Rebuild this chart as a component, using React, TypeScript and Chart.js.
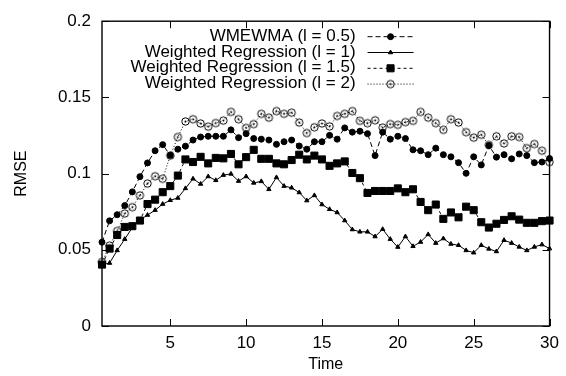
import React, { useEffect, useRef } from "react";
import { Chart, registerables } from "chart.js";
import { drawPoint } from "chart.js/helpers";

Chart.register(...registerables);

const times = [
  0.5, 1, 1.5, 2, 2.5, 3, 3.5, 4, 4.5, 5,
  5.5, 6, 6.5, 7, 7.5, 8, 8.5, 9, 9.5, 10,
  10.5, 11, 11.5, 12, 12.5, 13, 13.5, 14, 14.5, 15,
  15.5, 16, 16.5, 17, 17.5, 18, 18.5, 19, 19.5, 20,
  20.5, 21, 21.5, 22, 22.5, 23, 23.5, 24, 24.5, 25,
  25.5, 26, 26.5, 27, 27.5, 28, 28.5, 29, 29.5, 30,
];

const seriesLabels = [
  "WMEWMA (l = 0.5)",
  "Weighted Regression (l = 1)",
  "Weighted Regression (l = 1.5)",
  "Weighted Regression (l = 2)",
];

const wmewma05 = [
  0.055, 0.069, 0.073, 0.079, 0.088, 0.098, 0.107, 0.115, 0.119, 0.112,
  0.116, 0.118, 0.122, 0.124, 0.1245, 0.1245, 0.1245, 0.1287, 0.1236, 0.1262,
  0.123, 0.1226, 0.122, 0.1192, 0.1209, 0.122, 0.1181, 0.116, 0.1209, 0.1209,
  0.1251, 0.1226, 0.13, 0.1272, 0.1278, 0.1262, 0.1118, 0.1272, 0.1226, 0.1245,
  0.123, 0.1156, 0.115, 0.1124, 0.1167, 0.1124, 0.111, 0.1072, 0.1002, 0.111,
  0.1057, 0.1184, 0.1108, 0.1124, 0.1097, 0.1129, 0.1118, 0.1072, 0.1076, 0.1099,
];

const wreg1 = [
  0.0403, 0.0413, 0.0496, 0.057, 0.0646, 0.0696, 0.0728, 0.076, 0.08, 0.0825,
  0.084, 0.0903, 0.0966, 0.0932, 0.0981, 0.0956, 0.099, 0.0998, 0.0951, 0.0981,
  0.0939, 0.0949, 0.0897, 0.0975, 0.0918, 0.0907, 0.0876, 0.0823, 0.0857, 0.0797,
  0.0766, 0.0745, 0.0692, 0.0633, 0.0618, 0.0618, 0.0587, 0.0635, 0.057, 0.0518,
  0.0587, 0.0523, 0.0551, 0.0601, 0.0544, 0.0574, 0.0538, 0.053, 0.0496, 0.0481,
  0.053, 0.0506, 0.0489, 0.0563, 0.0544, 0.0519, 0.0496, 0.0519, 0.0534, 0.0508,
];

const wreg15 = [
  0.0403, 0.0508, 0.0597, 0.065, 0.0655, 0.0692, 0.08, 0.0829, 0.0878, 0.0918,
  0.0987, 0.1093, 0.1076, 0.111, 0.1067, 0.1103, 0.11, 0.1129, 0.1061, 0.1108,
  0.1156, 0.1097, 0.1097, 0.1067, 0.1061, 0.1089, 0.1124, 0.1093, 0.1118, 0.1093,
  0.1051, 0.1067, 0.108, 0.1004, 0.097, 0.0873, 0.0886, 0.0886, 0.0886, 0.0903,
  0.0878, 0.0897, 0.0814, 0.076, 0.0797, 0.0703, 0.0745, 0.0713, 0.0783, 0.076,
  0.0681, 0.0646, 0.0671, 0.0696, 0.072, 0.0698, 0.0677, 0.0677, 0.0688, 0.0692,
];

const wreg2 = [
  0.042, 0.0527, 0.0624, 0.0738, 0.078, 0.0857, 0.0935, 0.0983, 0.0966, 0.1118,
  0.124, 0.1342, 0.1357, 0.1329, 0.1308, 0.1332, 0.1348, 0.1405, 0.1357, 0.13,
  0.1325, 0.1392, 0.1367, 0.141, 0.1392, 0.14, 0.1335, 0.1266, 0.1304, 0.1329,
  0.131, 0.1378, 0.1392, 0.141, 0.1346, 0.1331, 0.135, 0.1302, 0.1325, 0.132,
  0.1338, 0.1346, 0.1405, 0.1367, 0.1331, 0.1287, 0.1357, 0.1335, 0.1272, 0.1236,
  0.1255, 0.1188, 0.1245, 0.1198, 0.1245, 0.124, 0.1167, 0.1194, 0.115, 0.1076,
];

const xTicks = [5, 10, 15, 20, 25, 30];
const yTicks = [0, 0.05, 0.1, 0.15, 0.2];

const FONT = '"Liberation Sans", Arial, Helvetica, sans-serif';

function makeDotCircle(): HTMLCanvasElement {
  const c = document.createElement("canvas");
  c.width = 11;
  c.height = 11;
  const g = c.getContext("2d")!;
  g.strokeStyle = "#000";
  g.lineWidth = 1;
  g.beginPath();
  g.arc(5.5, 5.5, 3.7, 0, Math.PI * 2);
  g.stroke();
  g.fillStyle = "#000";
  g.beginPath();
  g.arc(5.5, 5.5, 1, 0, Math.PI * 2);
  g.fill();
  return c;
}

const framePlugin = {
  id: "gpFrame",
  afterDatasetsDraw(chart: any) {
    const { ctx, chartArea } = chart;
    const { left, right, top, bottom } = chartArea;
    const xs = chart.scales.x;
    const ys = chart.scales.y;
    ctx.save();
    ctx.setLineDash([]);
    ctx.strokeStyle = "#000";
    ctx.lineWidth = 1;
    const L = 7;
    const seg = (x1: number, y1: number, x2: number, y2: number) => {
      ctx.beginPath();
      ctx.moveTo(x1, y1);
      ctx.lineTo(x2, y2);
      ctx.stroke();
    };
    xs.ticks.forEach((t: any) => {
      const px = Math.round(xs.getPixelForValue(t.value)) + 0.5;
      seg(px, bottom, px, bottom - L);
      seg(px, top, px, top + L);
    });
    ys.ticks.forEach((t: any) => {
      const py = Math.round(ys.getPixelForValue(t.value)) + 0.5;
      seg(left, py, left + L, py);
      seg(right, py, right - L, py);
    });
    ctx.lineWidth = 1.4;
    ctx.strokeRect(left, top, right - left, bottom - top);
    ctx.restore();
  },
};

const legendPlugin = {
  id: "gpLegend",
  afterDraw(chart: any) {
    const { ctx, chartArea } = chart;
    const { right, top } = chartArea;
    ctx.save();
    ctx.font = `17px ${FONT}`;
    ctx.textAlign = "right";
    ctx.textBaseline = "middle";
    chart.data.datasets.forEach((ds: any, i: number) => {
      const y = top + 15 + i * 15.8;
      ctx.fillStyle = "#000";
      ctx.fillText(ds.label, right - 194, y);
      ctx.strokeStyle = "#000";
      ctx.lineWidth = 1;
      ctx.setLineDash(ds.borderDash || []);
      ctx.beginPath();
      ctx.moveTo(right - 182, y + 0.5);
      ctx.lineTo(right - 136, y + 0.5);
      ctx.stroke();
      ctx.setLineDash([]);
      drawPoint(
        ctx,
        { pointStyle: ds.pointStyle, radius: ds.pointRadius, rotation: 0, borderWidth: 1 },
        right - 159,
        y + 0.5
      );
    });
    ctx.restore();
  },
};

export default function App() {
  const ref = useRef<HTMLCanvasElement | null>(null);

  useEffect(() => {
    document.body.style.margin = "0";
    const canvas = ref.current;
    if (!canvas) return;
    const dot = makeDotCircle();
    const mk = (arr: number[]) => arr.map((v, i) => ({ x: times[i], y: v }));
    const common = {
      borderColor: "#000",
      backgroundColor: "#000",
      pointBorderColor: "#000",
      pointBackgroundColor: "#000",
      borderWidth: 1,
      pointBorderWidth: 1,
      tension: 0,
      fill: false,
      clip: false as any,
    };
    const chart = new Chart(canvas, {
      type: "line",
      data: {
        datasets: [
          { ...common, label: seriesLabels[0], data: mk(wmewma05), borderDash: [5, 3], pointStyle: "circle", pointRadius: 3 },
          { ...common, label: seriesLabels[1], data: mk(wreg1), borderDash: [], pointStyle: "triangle", pointRadius: 2.5 },
          { ...common, label: seriesLabels[2], data: mk(wreg15), borderDash: [3, 3], pointStyle: "rect", pointRadius: 5 },
          { ...common, label: seriesLabels[3], data: mk(wreg2), borderDash: [1, 2], pointStyle: dot as any, pointRadius: 4 },
        ],
      } as any,
      options: {
        animation: false,
        responsive: false,
        devicePixelRatio: 1,
        layout: { padding: { left: 0, right: 15, top: 10, bottom: 0 } },
        plugins: { legend: { display: false }, tooltip: { enabled: false } },
        scales: {
          x: {
            type: "linear",
            min: 0.5,
            max: 30,
            afterBuildTicks: (s: any) => {
              s.ticks = xTicks.map((v) => ({ value: v }));
            },
            afterFit: (s: any) => {
              s.height = 50;
            },
            grid: { display: false, drawTicks: false },
            border: { display: false },
            ticks: { color: "#000", font: { family: FONT, size: 17 }, padding: 7, maxRotation: 0, autoSkip: false },
            title: { display: true, text: "Time", color: "#000", font: { family: FONT, size: 16 }, padding: { top: 0, bottom: 2 } },
          },
          y: {
            type: "linear",
            min: 0,
            max: 0.2,
            afterBuildTicks: (s: any) => {
              s.ticks = yTicks.map((v) => ({ value: v }));
            },
            afterFit: (s: any) => {
              s.width = 102;
            },
            grid: { display: false, drawTicks: false },
            border: { display: false },
            ticks: {
              color: "#000",
              font: { family: FONT, size: 17 },
              padding: 11,
              autoSkip: false,
              callback: (v: any) => String(Number(v)),
            },
            title: { display: true, text: "RMSE", color: "#000", font: { family: FONT, size: 16 }, padding: { top: 12, bottom: 0 } },
          },
        },
      } as any,
      plugins: [framePlugin, legendPlugin],
    });
    return () => chart.destroy();
  }, []);

  return (
    <div style={{ width: 566, height: 376, background: "#fff" }}>
      <canvas ref={ref} width={566} height={376} style={{ display: "block" }} />
    </div>
  );
}
